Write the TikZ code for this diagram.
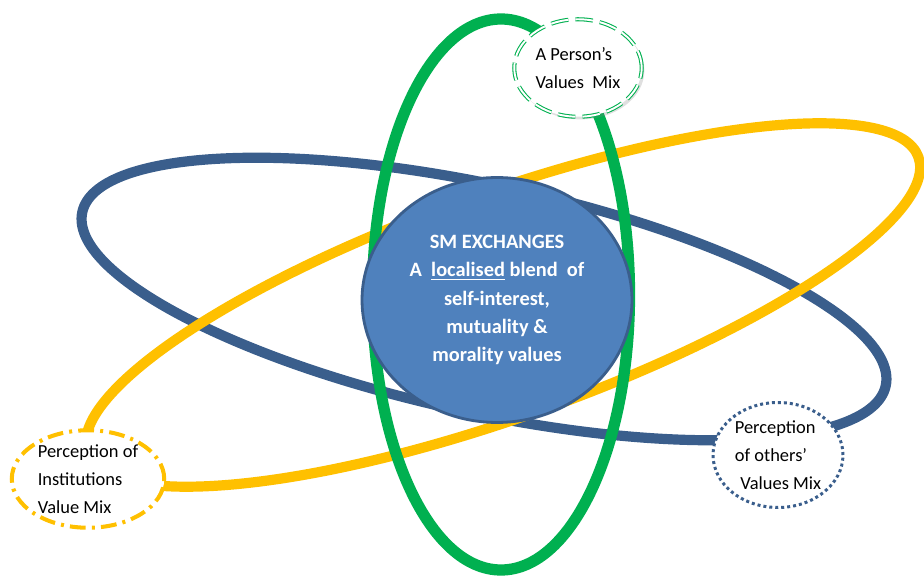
\documentclass[tikz,border=0pt]{standalone}
\usepackage{fontspec}
\setmainfont{Carlito}
\usetikzlibrary{shapes.geometric,shadows}
\definecolor{orbitblue}{HTML}{3A5E8C}
\definecolor{coreblue}{HTML}{4F81BD}
\definecolor{orbitgreen}{HTML}{00B050}
\definecolor{orbityellow}{HTML}{FFC000}

\begin{document}
\begin{tikzpicture}[x=0.02cm,y=0.02cm,
    orbit/.style={line width=5.8pt},
    mixbox/.style={shape=ellipse,fill=white,inner sep=0pt},
    mixtext/.style={align=left,inner sep=0pt,font=\fontsize{10.5}{16}\selectfont}]
    \useasboundingbox (0,0) rectangle (924,579);
    % the three orbits
    \draw[orbit,orbitblue,rotate around={-12.2:(484,280)}] (484,280) ellipse [x radius=411,y radius=114];
    \draw[orbit,orbityellow,rotate around={19.6:(503,274)}] (503,274) ellipse [x radius=441,y radius=112];
    \draw[orbit,orbitgreen,line width=6.4pt] (501,284.5) ellipse [x radius=128.5,y radius=275.5];
    % centre
    \node[shape=ellipse,fill=coreblue,draw=orbitblue,line width=1.6pt,minimum width=5.4cm,minimum height=4.9cm,
        text=white,align=center,font=\bfseries\fontsize{11.6}{16}\selectfont] (core) at (497,279)
        {SM EXCHANGES\\A\ \ \underline{localised} blend\ \ of\\self-interest,\\mutuality \&\\morality values};
    % value mixes
    \node[mixbox,draw=orbitgreen,line width=0.6pt,double=white,double distance=1.1pt,
        dash pattern=on 10pt off 4pt,minimum width=2.55cm,minimum height=1.95cm,
        drop shadow={shadow xshift=1.5pt,shadow yshift=-1.5pt,opacity=0.25}] (person) at (578,511) {};
    \node[mixtext] (person-text) at (person.center) {A Person’s\\Values\ \ Mix};
    \node[mixbox,draw=orbityellow,line width=2.3pt,dash pattern=on 9pt off 3.5pt on 1.7pt off 3.5pt,
        minimum width=3.05cm,minimum height=1.95cm] (institutions) at (88,100) {};
    \node[mixtext] (institutions-text) at (institutions.center) {Perception of\\Institutions\\Value Mix};
    \node[mixbox,draw=orbitblue,line width=1.7pt,dash pattern=on 1.7pt off 1.7pt,
        minimum width=2.6cm,minimum height=2.1cm] (others) at (778,124) {};
    \node[mixtext] (others-text) at (others.center) {Perception\\of others’\\\hspace*{0.3em}Values Mix};
\end{tikzpicture}
\end{document}
